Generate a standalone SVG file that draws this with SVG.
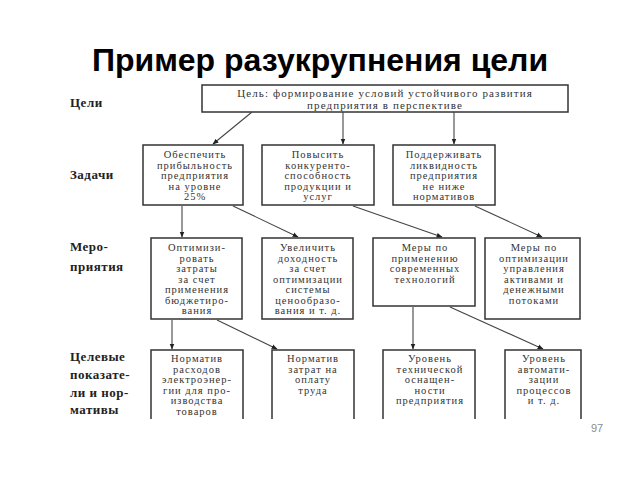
<svg xmlns="http://www.w3.org/2000/svg" width="640" height="480" viewBox="0 0 640 480">
<style>
.title{font-family:"Liberation Sans",Arial,sans-serif;font-weight:bold;font-size:32px;fill:#000}
.lbl{font-family:"Liberation Serif","Times New Roman",serif;font-weight:bold;font-size:13px;fill:#222;letter-spacing:0.5px}
.t{font-family:"Liberation Serif","Times New Roman",serif;font-size:10.5px;fill:#333;text-anchor:middle;letter-spacing:1px}
.tg{font-family:"Liberation Serif","Times New Roman",serif;font-size:11px;fill:#333;text-anchor:middle;letter-spacing:1.1px}
.box{fill:#fff;stroke:#333;stroke-width:1.5}
.c{stroke:#444;stroke-width:1.1;fill:none;marker-end:url(#ah)}
.pg{font-family:"Liberation Sans",Arial,sans-serif;font-size:11px;fill:#8c8c8c;text-anchor:middle}
</style>
<defs>
<marker id="ah" viewBox="0 0 10 10" refX="9" refY="5" markerWidth="6" markerHeight="6" markerUnits="userSpaceOnUse" orient="auto">
<path d="M0,1 L10,5 L0,9 z" fill="#222"/>
</marker>
</defs>
<rect width="640" height="480" fill="#fff"/>
<text class="title" x="320" y="71" text-anchor="middle">Пример разукрупнения цели</text>

<g id="labels">
<text class="lbl" x="70" y="107">Цели</text>
<text class="lbl" x="70" y="179">Задачи</text>
<text class="lbl" x="70" y="251">Меро-</text>
<text class="lbl" x="70" y="271">приятия</text>
<text class="lbl" x="70" y="361">Целевые</text>
<text class="lbl" x="70" y="379">показате-</text>
<text class="lbl" x="70" y="397">ли и нор-</text>
<text class="lbl" x="70" y="414">мативы</text>
</g>

<g id="goal">
<rect class="box" x="202" y="85" width="366" height="27"/>
<text class="tg" x="385" y="97">Цель: формирование условий устойчивого развития</text>
<text class="tg" x="385" y="108.5">предприятия в перспективе</text>
</g>

<g id="task1">
<rect class="box" x="143" y="145" width="100" height="60"/>
<text class="t" x="195" y="158">Обеспечить</text>
<text class="t" x="195" y="168.5">прибыльность</text>
<text class="t" x="195" y="179">предприятия</text>
<text class="t" x="195" y="189.5">на уровне</text>
<text class="t" x="195" y="200">25%</text>
</g>
<g id="task2">
<rect class="box" x="262" y="145" width="112" height="60"/>
<text class="t" x="318" y="158">Повысить</text>
<text class="t" x="318" y="168.5">конкуренто-</text>
<text class="t" x="318" y="179">способность</text>
<text class="t" x="318" y="189.5">продукции и</text>
<text class="t" x="318" y="200">услуг</text>
</g>
<g id="task3">
<rect class="box" x="393" y="145" width="102" height="60"/>
<text class="t" x="444" y="158">Поддерживать</text>
<text class="t" x="444" y="168.5">ликвидность</text>
<text class="t" x="444" y="179">предприятия</text>
<text class="t" x="444" y="189.5">не ниже</text>
<text class="t" x="444" y="200">нормативов</text>
</g>

<g id="act1">
<rect class="box" x="151" y="238" width="91" height="81"/>
<text class="t" x="197" y="251">Оптимизи-</text>
<text class="t" x="197" y="261.5">ровать</text>
<text class="t" x="197" y="272">затраты</text>
<text class="t" x="197" y="282.5">за счет</text>
<text class="t" x="197" y="293">применения</text>
<text class="t" x="197" y="303.5">бюджетиро-</text>
<text class="t" x="197" y="314">вания</text>
</g>
<g id="act2">
<rect class="box" x="262" y="238" width="91" height="81"/>
<text class="t" x="308" y="251">Увеличить</text>
<text class="t" x="308" y="261.5">доходность</text>
<text class="t" x="308" y="272">за счет</text>
<text class="t" x="308" y="282.5">оптимизации</text>
<text class="t" x="308" y="293">системы</text>
<text class="t" x="308" y="303.5">ценообразо-</text>
<text class="t" x="308" y="314">вания и т. д.</text>
</g>
<g id="act3">
<rect class="box" x="373" y="238" width="102" height="68"/>
<text class="t" x="425" y="251">Меры по</text>
<text class="t" x="425" y="261.5">применению</text>
<text class="t" x="425" y="272">современных</text>
<text class="t" x="425" y="282.5">технологий</text>
</g>
<g id="act4">
<rect class="box" x="485" y="238" width="95" height="81"/>
<text class="t" x="534" y="251">Меры по</text>
<text class="t" x="534" y="261.5">оптимизации</text>
<text class="t" x="534" y="272">управления</text>
<text class="t" x="534" y="282.5">активами и</text>
<text class="t" x="534" y="293">денежными</text>
<text class="t" x="534" y="303.5">потоками</text>
</g>

<g id="ind1">
<path class="box" d="M151,419 V350 H243 V419"/>
<text class="t" x="197" y="362">Норматив</text>
<text class="t" x="197" y="372.5">расходов</text>
<text class="t" x="197" y="383">электроэнер-</text>
<text class="t" x="197" y="393.5">гии для про-</text>
<text class="t" x="197" y="404">изводства</text>
<text class="t" x="197" y="414.5">товаров</text>
</g>
<g id="ind2">
<path class="box" d="M272,419 V350 H354 V419"/>
<text class="t" x="313" y="362">Норматив</text>
<text class="t" x="313" y="372.5">затрат на</text>
<text class="t" x="313" y="383">оплату</text>
<text class="t" x="313" y="393.5">труда</text>
</g>
<g id="ind3">
<path class="box" d="M383,419 V350 H475 V419"/>
<text class="t" x="430" y="362">Уровень</text>
<text class="t" x="430" y="372.5">технической</text>
<text class="t" x="430" y="383">оснащен-</text>
<text class="t" x="430" y="393.5">ности</text>
<text class="t" x="430" y="404">предприятия</text>
</g>
<g id="ind4">
<path class="box" d="M505,419 V350 H581 V419"/>
<text class="t" x="544" y="362">Уровень</text>
<text class="t" x="544" y="372.5">автомати-</text>
<text class="t" x="544" y="383">зации</text>
<text class="t" x="544" y="393.5">процессов</text>
<text class="t" x="544" y="404">и т. д.</text>
</g>

<g id="connectors">
<line class="c" x1="252" y1="112" x2="213" y2="144"/>
<line class="c" x1="343" y1="112" x2="343" y2="144"/>
<line class="c" x1="454" y1="112" x2="454" y2="144"/>
<line class="c" x1="182" y1="206" x2="182" y2="237"/>
<line class="c" x1="233" y1="206" x2="298" y2="237"/>
<line class="c" x1="353" y1="206" x2="442" y2="237"/>
<line class="c" x1="475" y1="206" x2="542" y2="237"/>
<line class="c" x1="172" y1="320" x2="172" y2="349"/>
<line class="c" x1="217" y1="320" x2="277" y2="349"/>
<line class="c" x1="413" y1="307" x2="413" y2="349"/>
<line class="c" x1="450" y1="307" x2="543" y2="349"/>
</g>

<text class="pg" x="597" y="432">97</text>
</svg>
